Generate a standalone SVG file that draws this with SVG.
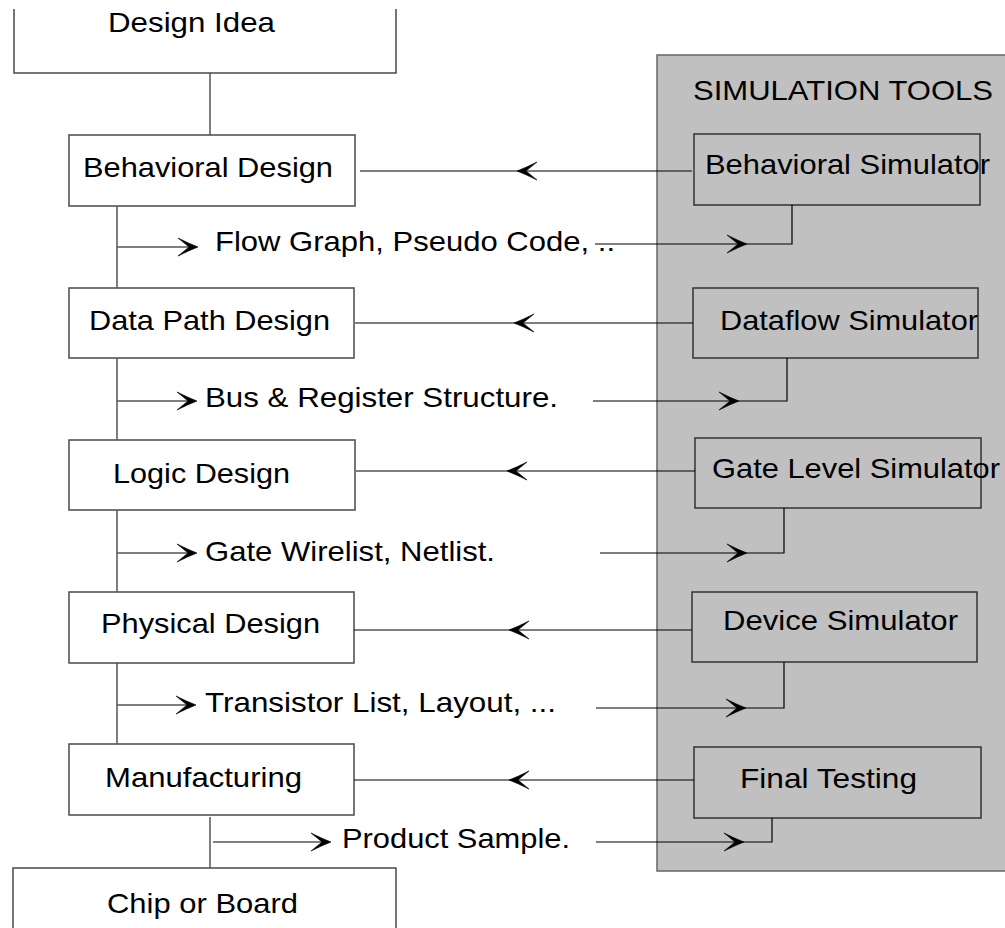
<svg xmlns="http://www.w3.org/2000/svg" xmlns:xlink="http://www.w3.org/1999/xlink" width="1005" height="928" viewBox="0 0 1005 928">
  <style>
    .box { fill: #ffffff; stroke: #4a4a4a; stroke-width: 1.5; }
    .sim { fill: #c0c0c0; stroke: #333333; stroke-width: 1.5; }
    .panel { fill: #c0c0c0; stroke: #666666; stroke-width: 1.5; }
    .lbl { font-family: "Liberation Sans", Arial, sans-serif; font-size: 28px; fill: #000000; }
    .trunk { fill: none; stroke: #555555; stroke-width: 1.5; }
    .wire { fill: none; stroke: #000000; stroke-width: 1.2; }
    .head { fill: #000000; stroke: #000000; stroke-width: 0.6; stroke-linejoin: round; }
  </style>
  <defs>
    <!-- barbed arrowhead, tip at origin, pointing right -->
    <path id="ah" class="head" d="M1,0 Q-8,-3.5 -19,-9 Q-11,-2.5 -8,0 Q-11,2.5 -19,9 Q-8,3.5 1,0 Z"/>
  </defs>

  <rect width="1005" height="928" fill="#ffffff"/>

  <!-- simulation tools panel -->
  <g id="panel">
    <rect class="panel" x="657" y="55" width="360" height="816"/>
    <text class="lbl" x="693" y="100" textLength="300" lengthAdjust="spacingAndGlyphs">SIMULATION TOOLS</text>
  </g>

  <!-- design flow nodes -->
  <g id="design-idea">
    <path class="box" d="M14,9 V73 H396 V9"/>
    <text class="lbl" x="108" y="32" textLength="167" lengthAdjust="spacingAndGlyphs">Design Idea</text>
  </g>
  <g id="behavioral-design">
    <rect class="box" x="69" y="135" width="286" height="71"/>
    <text class="lbl" x="83" y="177" textLength="250" lengthAdjust="spacingAndGlyphs">Behavioral Design</text>
  </g>
  <g id="data-path-design">
    <rect class="box" x="69" y="288" width="285" height="70"/>
    <text class="lbl" x="89" y="330" textLength="241" lengthAdjust="spacingAndGlyphs">Data Path Design</text>
  </g>
  <g id="logic-design">
    <rect class="box" x="69" y="440" width="286" height="70"/>
    <text class="lbl" x="113" y="483" textLength="177" lengthAdjust="spacingAndGlyphs">Logic Design</text>
  </g>
  <g id="physical-design">
    <rect class="box" x="69" y="592" width="285" height="71"/>
    <text class="lbl" x="101" y="633" textLength="219" lengthAdjust="spacingAndGlyphs">Physical Design</text>
  </g>
  <g id="manufacturing">
    <rect class="box" x="69" y="744" width="285" height="71"/>
    <text class="lbl" x="105" y="787" textLength="197" lengthAdjust="spacingAndGlyphs">Manufacturing</text>
  </g>
  <g id="chip-or-board">
    <path class="box" d="M13,935 V868 H396 V935"/>
    <text class="lbl" x="107" y="913" textLength="191" lengthAdjust="spacingAndGlyphs">Chip or Board</text>
  </g>

  <!-- simulators -->
  <g id="behavioral-simulator">
    <rect class="sim" x="694" y="134" width="286" height="71"/>
    <text class="lbl" x="705" y="174" textLength="285" lengthAdjust="spacingAndGlyphs">Behavioral Simulator</text>
  </g>
  <g id="dataflow-simulator">
    <rect class="sim" x="693" y="288" width="285" height="70"/>
    <text class="lbl" x="720" y="330" textLength="258" lengthAdjust="spacingAndGlyphs">Dataflow Simulator</text>
  </g>
  <g id="gate-level-simulator">
    <rect class="sim" x="695" y="438" width="286" height="70"/>
    <text class="lbl" x="712" y="478" textLength="288" lengthAdjust="spacingAndGlyphs">Gate Level Simulator</text>
  </g>
  <g id="device-simulator">
    <rect class="sim" x="692" y="592" width="285" height="70"/>
    <text class="lbl" x="723" y="630" textLength="235" lengthAdjust="spacingAndGlyphs">Device Simulator</text>
  </g>
  <g id="final-testing">
    <rect class="sim" x="694" y="747" width="287" height="71"/>
    <text class="lbl" x="740" y="788" textLength="177" lengthAdjust="spacingAndGlyphs">Final Testing</text>
  </g>

  <!-- intermediate results -->
  <g id="results">
    <text class="lbl" x="215" y="251" textLength="400" lengthAdjust="spacingAndGlyphs">Flow Graph, Pseudo Code, ..</text>
    <text class="lbl" x="205" y="407" textLength="353" lengthAdjust="spacingAndGlyphs">Bus &amp; Register Structure.</text>
    <text class="lbl" x="205" y="561" textLength="290" lengthAdjust="spacingAndGlyphs">Gate Wirelist, Netlist.</text>
    <text class="lbl" x="205" y="712" textLength="351" lengthAdjust="spacingAndGlyphs">Transistor List, Layout, ...</text>
    <text class="lbl" x="342" y="848" textLength="228" lengthAdjust="spacingAndGlyphs">Product Sample.</text>
  </g>

  <g id="connectors">
    <!-- main flow trunk -->
    <path class="trunk" d="M210,73 V135"/>
    <path class="trunk" d="M117,206 V288"/>
    <path class="trunk" d="M117,358 V440"/>
    <path class="trunk" d="M117,510 V592"/>
    <path class="trunk" d="M117,663 V744"/>
    <path class="trunk" d="M210,817 V868"/>

    <!-- results leaving each design stage -->
    <path class="trunk" d="M117,247 H192"/>
    <use xlink:href="#ah" transform="translate(197,247)"/>
    <path class="trunk" d="M117,401 H191"/>
    <use xlink:href="#ah" transform="translate(196,401)"/>
    <path class="trunk" d="M117,553 H191"/>
    <use xlink:href="#ah" transform="translate(196,553)"/>
    <path class="trunk" d="M117,705 H190"/>
    <use xlink:href="#ah" transform="translate(195,705)"/>
    <path class="trunk" d="M213,842 H325"/>
    <use xlink:href="#ah" transform="translate(330,842)"/>

    <!-- results passed into the simulators -->
    <path class="wire" d="M595,244 H792 V205"/>
    <use xlink:href="#ah" transform="translate(746,244)"/>
    <path class="wire" d="M593,401 H787 V358"/>
    <use xlink:href="#ah" transform="translate(738,401)"/>
    <path class="wire" d="M600,553 H784 V508"/>
    <use xlink:href="#ah" transform="translate(746,553)"/>
    <path class="wire" d="M596,708 H784 V662"/>
    <use xlink:href="#ah" transform="translate(745,708)"/>
    <path class="wire" d="M596,842 H772 V818"/>
    <use xlink:href="#ah" transform="translate(743,842)"/>

    <!-- simulator feedback to each stage -->
    <path class="wire" d="M360,171 H692"/>
    <use xlink:href="#ah" transform="translate(518,171) rotate(180)"/>
    <path class="wire" d="M355,323 H693"/>
    <use xlink:href="#ah" transform="translate(515,323) rotate(180)"/>
    <path class="wire" d="M356,471 H695"/>
    <use xlink:href="#ah" transform="translate(508,471) rotate(180)"/>
    <path class="wire" d="M354,630 H692"/>
    <use xlink:href="#ah" transform="translate(510,630) rotate(180)"/>
    <path class="wire" d="M354,780 H694"/>
    <use xlink:href="#ah" transform="translate(510,780) rotate(180)"/>
  </g>
</svg>
